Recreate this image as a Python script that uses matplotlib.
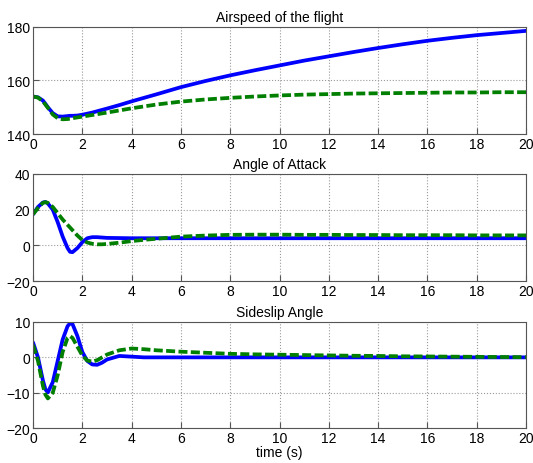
import matplotlib.pyplot as plt

plt.rcParams['font.family'] = ['Liberation Sans', 'DejaVu Sans']

t = [0, 0.2, 0.4, 0.5, 0.6, 0.8, 1.0, 1.2, 1.4, 1.5, 1.6, 1.8, 2.0, 2.2, 2.4, 2.6, 2.8, 3.0,
     3.5, 4, 4.5, 5, 6, 7, 8, 9, 10, 11, 12, 13, 14, 15, 16, 17, 18, 19, 20]

# airspeed
v_blue = [154, 153.7, 152.5, 151.3, 150, 147.8, 146.6, 146.5, 146.7, 146.8, 146.8, 146.9, 147.2,
          147.6, 148.0, 148.5, 149.0, 149.5, 150.8, 152.2, 153.5, 154.8, 157.5, 159.8, 161.9,
          163.8, 165.6, 167.4, 169.0, 170.6, 172.1, 173.5, 174.8, 175.9, 176.9, 177.7, 178.5]
v_green = [154, 153.6, 152.2, 151.0, 149.8, 147.3, 145.9, 145.5, 145.6, 145.7, 145.9, 146.2, 146.5,
           146.8, 147.1, 147.4, 147.7, 148.0, 148.8, 149.6, 150.3, 151.0, 152.1, 152.9, 153.5,
           154.0, 154.4, 154.7, 154.9, 155.1, 155.2, 155.3, 155.4, 155.5, 155.5, 155.6, 155.6]

# angle of attack
a_blue = [17.4, 21.5, 24.0, 24.3, 23.5, 20.0, 13.0, 5.0, -1.5, -3.6, -3.8, -1.5, 1.8,
          4.0, 4.6, 4.6, 4.4, 4.2, 4.1, 4.0, 4.0, 4.0, 4.0, 4.0, 4.0, 4.0, 4.0, 4.0,
          4.0, 4.0, 4.0, 4.0, 4.0, 4.0, 4.0, 4.0, 4.0]
a_green = [17.4, 21.0, 23.8, 24.2, 23.8, 21.5, 18.0, 14.5, 11.5, 10.0, 8.5, 5.5, 3.0,
           1.6, 0.9, 0.6, 0.6, 0.8, 1.5, 2.4, 3.1, 3.7, 4.9, 5.5, 5.9, 6.0, 6.0, 5.9,
           5.9, 5.8, 5.8, 5.7, 5.7, 5.7, 5.6, 5.6, 5.6]

# sideslip angle
b_blue = [4.2, 0.0, -6.5, -9.0, -9.9, -7.0, -1.0, 5.0, 8.8, 9.6, 9.4, 6.0, 1.5,
          -1.0, -2.0, -2.1, -1.5, -0.6, 0.4, 0.2, 0.0, 0.0, 0.0, 0.0, 0.0, 0.0, 0.0,
          0.0, 0.0, 0.0, 0.0, 0.0, 0.0, 0.0, 0.0, 0.0, 0.0]
b_green = [3.5, -1.0, -8.0, -10.5, -11.6, -10.0, -5.0, 1.5, 5.5, 6.0, 5.5, 3.0, 0.5,
           -0.9, -1.2, -0.8, 0.0, 0.8, 2.0, 2.5, 2.3, 2.0, 1.6, 1.3, 1.0, 0.85, 0.75,
           0.65, 0.55, 0.45, 0.4, 0.3, 0.25, 0.2, 0.15, 0.1, 0.05]

titles = ['Airspeed of the flight', 'Angle of Attack', 'Sideslip Angle']
ylims = [(140, 180), (-20, 40), (-20, 10)]
yticks = [[140, 160, 180], [-20, 0, 20, 40], [-20, -10, 0, 10]]
xticks = list(range(0, 21, 2))

fig = plt.figure(figsize=(5.33, 4.64), dpi=100)
boxes = [[0.062, 0.709, 0.925, 0.231],
         [0.062, 0.392, 0.925, 0.231],
         [0.062, 0.075, 0.925, 0.229]]
series = [(v_blue, v_green), (a_blue, a_green), (b_blue, b_green)]

for i in range(3):
    ax = fig.add_axes(boxes[i])
    blue, green = series[i]
    ax.plot(t, blue, color='#0000ff', lw=2.7, solid_capstyle='round')
    ax.plot(t, green, color='#007f00', lw=2.7, dashes=(2.4, 0.9))
    ax.set_xlim(0, 20)
    ax.set_ylim(*ylims[i])
    ax.set_xticks(xticks)
    ax.set_yticks(yticks[i])
    ax.grid(True, color='#9a9a9a', linestyle=':', linewidth=0.8)
    ax.tick_params(direction='in', labelsize=10, length=4, pad=2, color='#555555')
    for s in ax.spines.values():
        s.set_color('#555555')
        s.set_linewidth(0.8)
    ax.set_title(titles[i], fontsize=10, pad=4)

ax.set_xlabel('time (s)', fontsize=10, labelpad=0)

fig.savefig('out.png', dpi=100)
